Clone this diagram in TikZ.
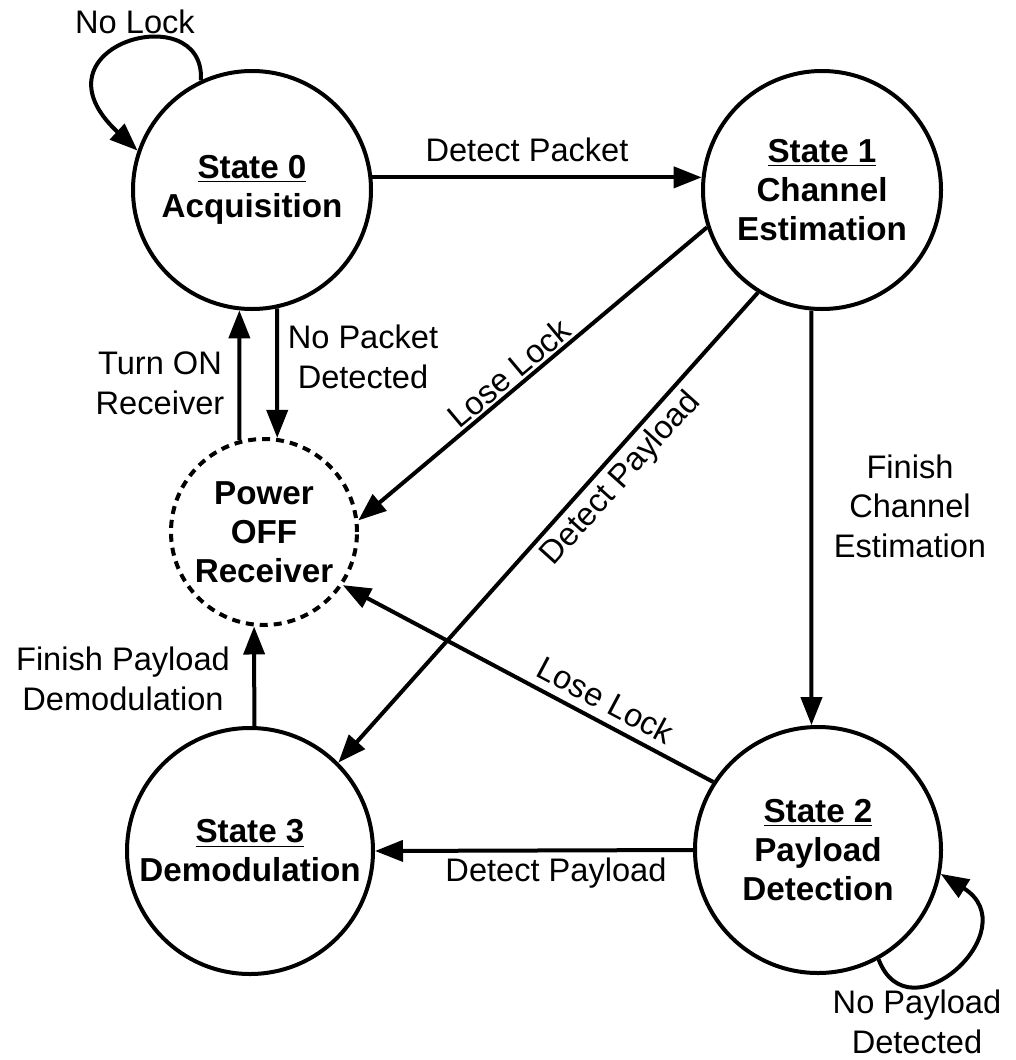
\documentclass[tikz,border=0pt]{standalone}
\usepackage{fontspec}
\setmainfont{Liberation Sans}
\usetikzlibrary{arrows.meta}

\begin{document}
\begin{tikzpicture}[
    x=0.5pt, y=-0.5pt,
    state/.style={circle, draw, line width=2pt, inner sep=0pt, align=center,
      font=\fontsize{16.6}{19.5}\selectfont\bfseries},
    offstate/.style={state, dash pattern=on 4pt off 3pt},
    trans/.style={-{Triangle[length=14pt,width=10.5pt]}, line width=2pt},
    lbl/.style={align=center, inner sep=0pt, font=\fontsize{16.3}{19.8}\selectfont}
  ]
    \useasboundingbox (0,0) rectangle (1016,1060);

    % states
    \node[state, minimum size=119pt] (s0) at (252,190)
      {\underline{State 0}\\Acquisition};
    \node[state, minimum size=119pt] (s1) at (822,190)
      {\underline{State 1}\\Channel\\Estimation};
    \node[state, minimum size=123pt] (s2) at (818,850)
      {\underline{State 2}\\Payload\\Detection};
    \node[state, minimum size=123pt] (s3) at (250,851)
      {\underline{State 3}\\Demodulation};
    \node[offstate, minimum size=93pt] (pw) at (264,532)
      {Power\\OFF\\Receiver};

    % transitions
    \draw[trans] (s0.6) -- (s1.174);
    \draw[trans] (pw.105) -- (s0.264);
    \draw[trans] (s0.-78) -- (pw.82);
    \draw[trans] (s1.198) -- (pw.7);
    \draw[trans] (s1.238) -- (s3.45);
    \draw[trans] (s1.265) -- (s2.93);
    \draw[trans] (s2.147) -- (pw.-34);
    \draw[trans] (s2.180) -- (s3.0);
    \draw[trans] (s3.88) -- (pw.264);

    % self loops
    \draw[trans] (s0.115) .. controls +(5,-85) and +(-113,-105) .. (s0.161);
    \draw[trans] (s2.-61) .. controls +(30,80) and +(88,55) .. (s2.-11);

    % labels
    \node[lbl] (lPacket) at (527,150) {Detect Packet};
    \node[lbl] (lTurnOn) at (160,383) {Turn ON\\Receiver};
    \node[lbl] (lNoPacket) at (363,357) {No Packet\\Detected};
    \node[lbl, rotate=40] (lLose1) at (509,373) {Lose Lock};
    \node[lbl, rotate=48] (lPayload1) at (621,479) {Detect Payload};
    \node[lbl] (lFinishCh) at (910,506) {Finish\\Channel\\Estimation};
    \node[lbl, rotate=-28] (lLose2) at (606,700) {Lose Lock};
    \node[lbl] (lPayload2) at (556,873) {Detect Payload};
    \node[lbl] (lFinishPl) at (123,679) {Finish Payload\\Demodulation};
    \node[lbl] (lNoLock) at (135,22) {No Lock};
    \node[lbl] (lNoPayload) at (917,1022) {No Payload\\Detected};
  \end{tikzpicture}
\end{document}
